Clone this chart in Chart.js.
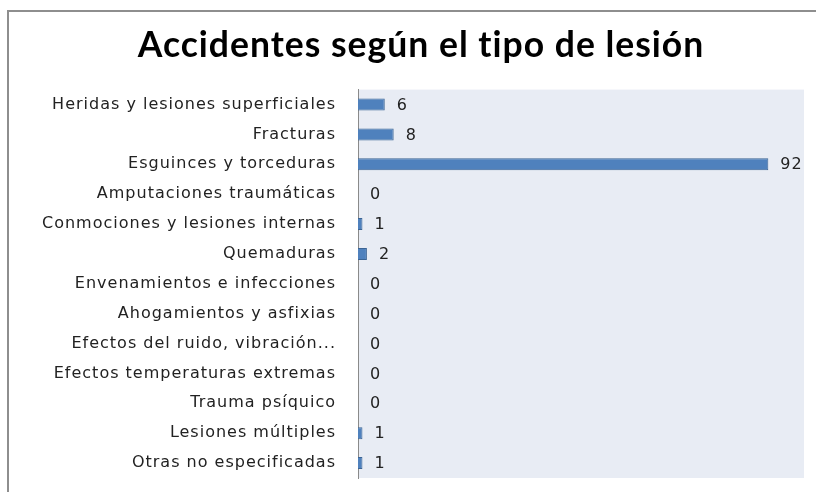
<!DOCTYPE html>
<html>
<head>
<meta charset="utf-8">
<script src="https://cdn.jsdelivr.net/npm/chart.js@4/dist/chart.umd.min.js"></script>
<style>
  html, body { margin: 0; padding: 0; background: #fff; }
  #wrap { position: relative; width: 816px; height: 492px; overflow: hidden; }
  #frame { position: absolute; left: 7px; top: 10px; width: 900px; height: 600px;
           border-top: 2px solid #8e8e8e; border-left: 2px solid #8e8e8e; }
  canvas { position: absolute; left: 0; top: 0; }
</style>
</head>
<body>
<div id="wrap">
  <div id="frame"></div>
  <canvas id="lesiones" width="816" height="492"></canvas>
</div>
<script>
const titulo = 'Accidentes según el tipo de lesión';
const tipos = [
  'Heridas y lesiones superficiales',
  'Fracturas',
  'Esguinces y torceduras',
  'Amputaciones traumáticas',
  'Conmociones y lesiones internas',
  'Quemaduras',
  'Envenamientos e infecciones',
  'Ahogamientos y asfixias',
  'Efectos del ruido, vibración...',
  'Efectos temperaturas extremas',
  'Trauma psíquico',
  'Lesiones múltiples',
  'Otras no especificadas'
];
const accidentes = [6, 8, 92, 0, 1, 2, 0, 0, 0, 0, 0, 1, 1];
const ejeMax = 100;

// texto un poco espaciado, el canvas pierde el estado al redimensionar
const espaciado = {
  id: 'espaciado',
  beforeUpdate(chart) { chart.ctx.letterSpacing = '1px'; },
  beforeDraw(chart) { chart.ctx.letterSpacing = '1px'; }
};

// fondo gris azulado del área de trazado
const fondoArea = {
  id: 'fondoArea',
  beforeDraw(chart) {
    const { ctx, chartArea: a } = chart;
    ctx.save();
    ctx.fillStyle = '#e8ecf4';
    ctx.fillRect(a.left, a.top, a.right - a.left, a.bottom - a.top);
    ctx.restore();
  }
};

// número al lado de cada barra
const etiquetas = {
  id: 'etiquetas',
  afterDatasetsDraw(chart) {
    const { ctx } = chart;
    const meta = chart.getDatasetMeta(0);
    ctx.save();
    ctx.font = '16px "DejaVu Sans"';
    ctx.fillStyle = '#222';
    ctx.textBaseline = 'middle';
    meta.data.forEach((bar, i) => {
      ctx.fillText(String(accidentes[i]), bar.x + 12, bar.y + 1);
    });
    ctx.restore();
  }
};

new Chart(document.getElementById('lesiones'), {
  type: 'bar',
  data: {
    labels: tipos,
    datasets: [{
      data: accidentes,
      backgroundColor: '#4f81bd',
      borderColor: '#3b6494',
      borderWidth: 1,
      categoryPercentage: 1,
      barPercentage: 0.4
    }]
  },
  options: {
    indexAxis: 'y',
    responsive: false,
    animation: false,
    layout: { padding: { left: 38, right: 12, top: 24, bottom: 14 } },
    plugins: {
      legend: { display: false },
      tooltip: { enabled: false },
      title: {
        display: true,
        text: titulo,
        color: '#000',
        font: { family: 'Lato', size: 35.5, weight: 'bold' },
        padding: { top: 0, bottom: 23 }
      }
    },
    scales: {
      x: { display: false, min: 0, max: ejeMax },
      y: {
        afterFit(scale) {
          scale.width = 320;
          // sin margen extra arriba y abajo por la separación de las etiquetas
          scale.paddingTop = 0;
          scale.paddingBottom = 0;
        },
        grid: { display: false, drawTicks: false },
        border: { display: true, color: '#8a8a8a', width: 1 },
        ticks: {
          color: '#222',
          padding: 22,
          font: { family: 'DejaVu Sans', size: 16 }
        }
      }
    }
  },
  plugins: [espaciado, fondoArea, etiquetas]
});
</script>
</body>
</html>
